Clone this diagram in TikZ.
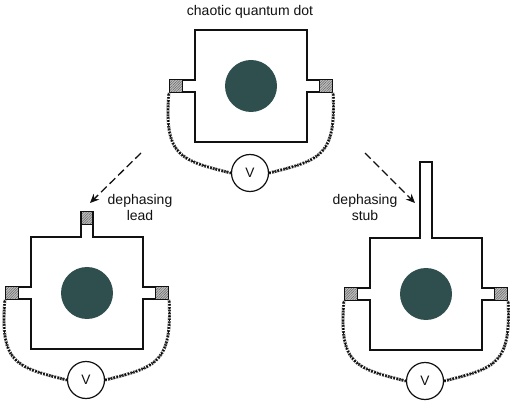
\documentclass[tikz,border=0pt]{standalone}
\usepackage{fontspec}
\setmainfont{Liberation Sans}
\usetikzlibrary{arrows.meta,positioning,patterns.meta}
\definecolor{Ink}{HTML}{111111}
\definecolor{Disc}{HTML}{2F4F4F}
\tikzset{
  wall/.style={draw=Ink,line width=1.3pt,line join=miter},
  contact/.style={draw=Ink,line width=1.3pt,minimum width=13pt,minimum height=12.5pt,inner sep=0pt,
    preaction={fill=black!25},preaction={pattern={Lines[angle=45,distance=1.8pt,line width=0.5pt]},pattern color=black!60}},
  disc/.style={circle,fill=Disc,minimum size=52pt,inner sep=0pt},
  meter/.style={circle,draw=Ink,line width=1.2pt,fill=white,minimum size=37pt,inner sep=0pt,font=\fontsize{13.7}{16}\selectfont,text=Ink},
  wire/.style={draw=black!85,line width=2.9pt,postaction={draw=white,line width=2.9pt,dash pattern=on 1.1pt off 1.8pt},
    postaction={draw=black,line width=1.1pt,dash pattern=on 1.7pt off 2.2pt}},
  dashline/.style={-{Stealth[length=9pt,width=8pt]},draw=Ink,line width=1.3pt,dash pattern=on 8pt off 4pt},
  caption/.style={font=\fontsize{14}{16}\selectfont,text=Ink,align=center,inner sep=0pt},
  qdot/.pic={
    \draw[wall] (-70,-6) -- (-56,-6) -- (-56,-56) -- (56,-56) -- (56,-6) -- (70,-6);
    \draw[wall] (-70,6) -- (-56,6) -- (-56,56) -- (56,56) -- (56,6) -- (70,6);
    \node[disc] (disc) at (0,0) {};
    \node[contact] (lcontact) at (-75,0) {};
    \node[contact] (rcontact) at (75,0) {};
    \node[meter] (meter) at (-1,87) {V};
    \draw[wire] (lcontact.south west) .. controls (-87,70) and (-72,74) .. (meter.west);
    \draw[wire] (rcontact.south east) .. controls (85,70) and (70,74) .. (meter.east);
  }
}

\begin{document}
\begin{tikzpicture}[x=1pt,y=-1pt]
  \useasboundingbox (0,0) rectangle (522,403);
  \pic (top-) at (251,86) {qdot};
  \pic (lead-) at (87,293) {qdot};
  \pic (stub-) at (426,294) {qdot};

  \draw[wall,fill=white] (81,237.6) -- (81,218) -- (93,218) -- (93,237.6);
  \node[contact,minimum width=12pt] (leadend) at (87,218) {};
  \draw[wall,fill=white] (420,238.6) -- (420,162) -- (432,162) -- (432,238.6);
  \draw[white,line width=1.6pt] (420.7,238) -- (431.3,238);

  \node[caption] (title) at (250,11.5) {chaotic quantum dot};
  \node[caption] (leadlabel) at (140,207) {dephasing\\lead};
  \node[caption] (stublabel) at (365,207) {dephasing\\stub};

  \coordinate (leadstart) at (141,153);
  \coordinate (leadtip) at (90,203);
  \coordinate (stubstart) at (365,153);
  \coordinate (stubtip) at (415,203);
  \draw[dashline] (leadstart) -- (leadtip);
  \draw[dashline] (stubstart) -- (stubtip);
\end{tikzpicture}
\end{document}
